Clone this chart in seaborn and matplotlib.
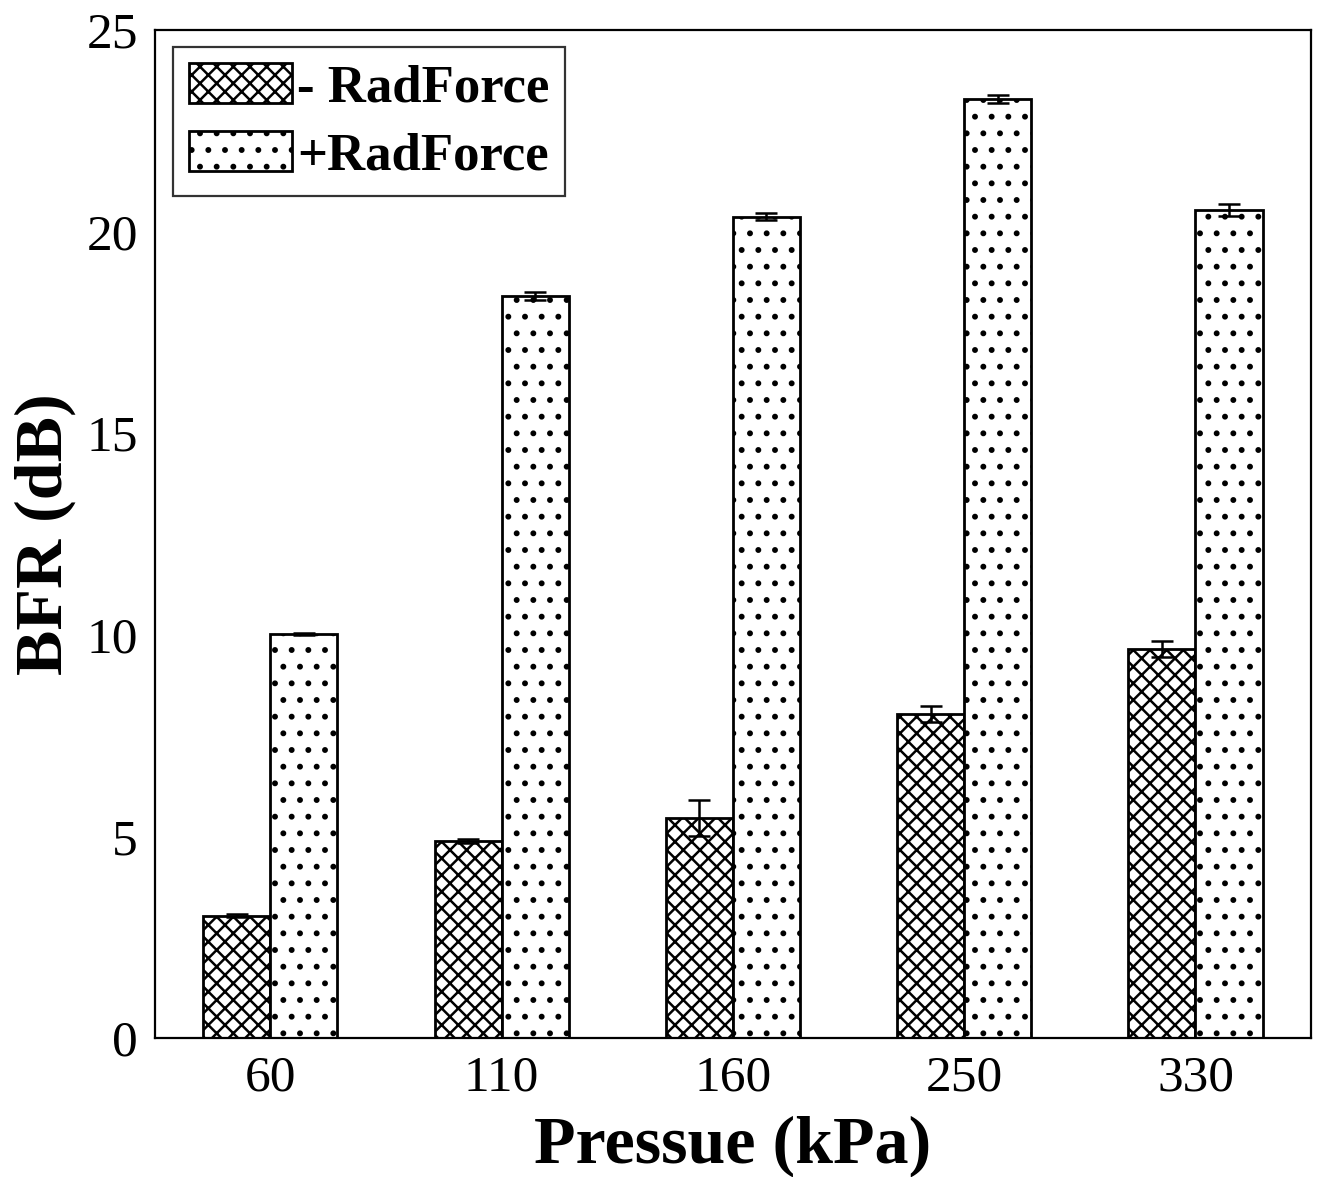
import matplotlib
matplotlib.use("Agg")
import matplotlib.pyplot as plt
import seaborn as sns
import pandas as pd
import numpy as np

pressures = ["60", "110", "160", "250", "330"]
minus_vals = [3.03, 4.89, 5.45, 8.04, 9.65]
minus_err = [0.04, 0.05, 0.45, 0.20, 0.20]
plus_vals = [10.02, 18.40, 20.37, 23.28, 20.53]
plus_err = [0.03, 0.10, 0.08, 0.10, 0.15]
series = ["- RadForce", "+RadForce"]

sns.set_theme(style="white")
plt.rcParams["font.family"] = ["Liberation Serif", "DejaVu Serif"]
plt.rcParams["hatch.linewidth"] = 1.8
plt.rcParams["hatch.color"] = "black"
plt.rcParams["text.color"] = "black"
plt.rcParams["axes.labelcolor"] = "black"
plt.rcParams["xtick.color"] = "black"
plt.rcParams["ytick.color"] = "black"

df = pd.DataFrame({
    "Pressure": pressures * 2,
    "BFR": minus_vals + plus_vals,
    "err": minus_err + plus_err,
    "Series": [series[0]] * 5 + [series[1]] * 5,
})

fig = plt.figure(figsize=(13.23, 11.77), dpi=100)
ax = fig.add_axes([0.117, 0.1181, 0.874, 0.8564])

sns.barplot(data=df, x="Pressure", y="BFR", hue="Series", hue_order=series,
            order=pressures, palette=["white", "white"], width=0.58,
            errorbar=None, edgecolor="black", linewidth=2.0, ax=ax, legend=True)

hatches = ["xx", "."]
bar_conts = list(ax.containers)
for ci, cont in enumerate(bar_conts):
    for p in cont.patches:
        p.set_hatch(hatches[ci])
        p.set_facecolor("white")
        p.set_edgecolor("black")
    errs = minus_err if ci == 0 else plus_err
    vals = minus_vals if ci == 0 else plus_vals
    xs = [p.get_x() + p.get_width() / 2 for p in cont.patches]
    ax.errorbar(xs, vals, yerr=errs, fmt="none", ecolor="black",
                elinewidth=1.8, capsize=8, capthick=1.8, zorder=5)

ax.set_ylim(0, 25)
ax.set_xlim(-0.5, 4.5)
ax.set_yticks([0, 5, 10, 15, 20, 25])
ax.tick_params(axis="both", length=0, labelsize=37, pad=12, colors="black")
for s in ax.spines.values():
    s.set_visible(True)
    s.set_color("black")
    s.set_linewidth(1.6)

ax.set_xlabel("Pressue (kPa)", fontsize=49, fontweight="bold", labelpad=10,
              color="black")
ax.set_ylabel("BFR (dB)", fontsize=49, fontweight="bold", labelpad=8,
              color="black")

leg = ax.legend(loc="upper left", bbox_to_anchor=(0.0156, 0.983),
                prop={"weight": "bold", "size": 38},
                frameon=True, fancybox=False, edgecolor="black",
                handlelength=1.95, handleheight=0.8, handletextpad=0.1,
                borderpad=0.3, labelspacing=0.35, borderaxespad=0.0)
leg.get_frame().set_linewidth(1.6)
for t in leg.get_texts():
    t.set_color("black")
for h, hh in zip(leg.legend_handles, hatches):
    h.set_hatch(hh)
    h.set_facecolor("white")
    h.set_edgecolor("black")
    h.set_linewidth(2.0)

fig.savefig("out.png", dpi=100)
